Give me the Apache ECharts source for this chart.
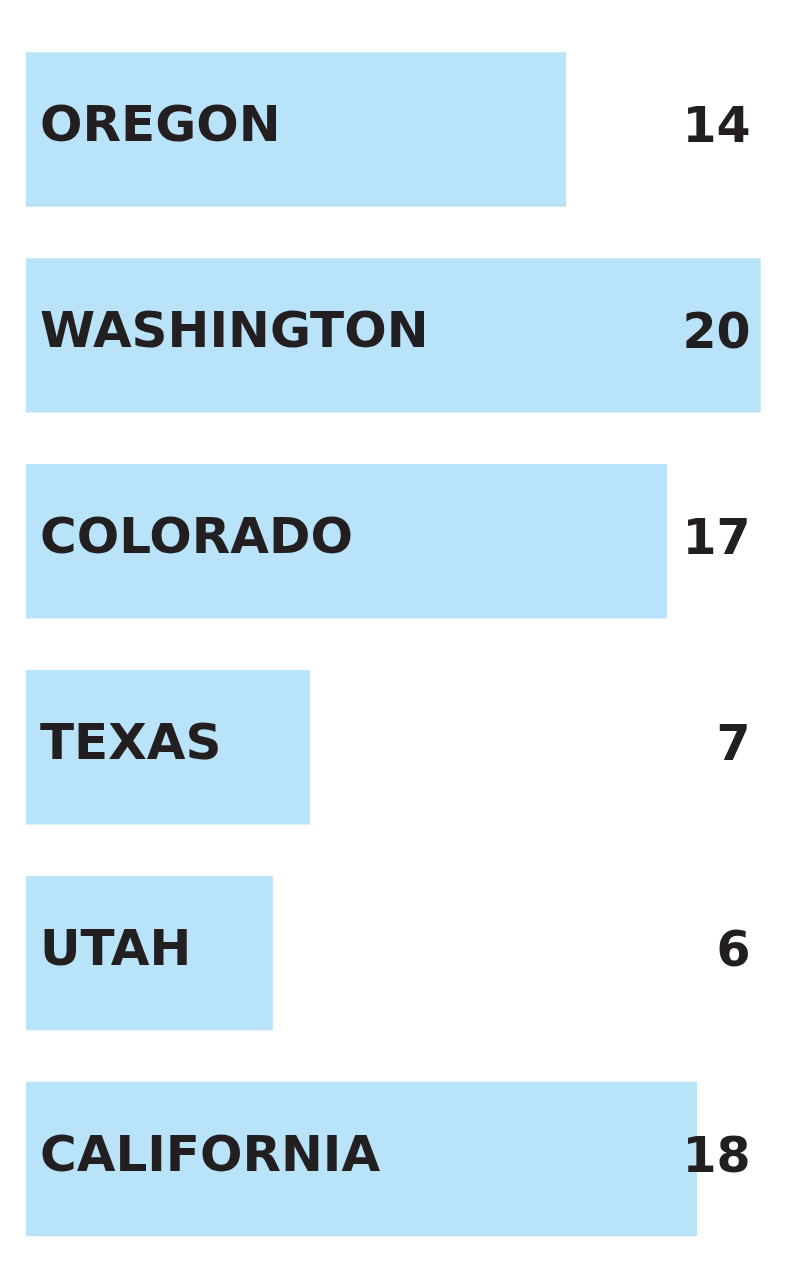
<!DOCTYPE html>
<html>
<head>
<meta charset="utf-8">
<script src="https://cdn.jsdelivr.net/npm/echarts@6/dist/echarts.min.js"></script>
<style>
html,body{margin:0;padding:0;background:#fff;}
#chart{width:800px;height:1276px;}
</style>
</head>
<body>
<div id="chart"></div>
<script>
// Data
const categories = ['OREGON', 'WASHINGTON', 'COLORADO', 'TEXAS', 'UTAH', 'CALIFORNIA'];
const barValues = [14.7, 20, 17.45, 7.73, 6.72, 18.27];
const valueLabels = ['14', '20', '17', '7', '6', '18'];

const FONT = '"DejaVu Sans", sans-serif';
const TEXT = '#231f20';

const chart = echarts.init(document.getElementById('chart'), null, {renderer: 'canvas'});
chart.setOption({
  animation: false,
  backgroundColor: '#ffffff',
  grid: {left: 26, right: 39.3, top: 26.5, bottom: 14, containLabel: false},
  xAxis: {
    type: 'value', min: 0, max: 20,
    show: false
  },
  yAxis: [
    {
      type: 'category', data: categories, inverse: true,
      axisLine: {show: false}, axisTick: {show: false}, axisLabel: {show: false},
      splitLine: {show: false}
    },
    {
      type: 'category', data: valueLabels, inverse: true, position: 'right',
      z: 20,
      axisLine: {show: false}, axisTick: {show: false}, splitLine: {show: false},
      axisLabel: {
        inside: true, margin: 10, align: 'right', verticalAlign: 'middle', padding: [0, 0, 6, 0],
        fontFamily: FONT, fontWeight: 'bold', fontSize: 49, color: TEXT
      }
    }
  ],
  series: [{
    type: 'bar',
    data: barValues,
    barCategoryGap: '25%',
    itemStyle: {color: '#b9e3f8'},
    label: {
      show: true, position: 'insideLeft', distance: 14, offset: [0, -1],
      formatter: p => categories[p.dataIndex],
      fontFamily: FONT, fontWeight: 'bold', fontSize: 50, color: TEXT
    }
  }]
});
</script>
</body>
</html>
